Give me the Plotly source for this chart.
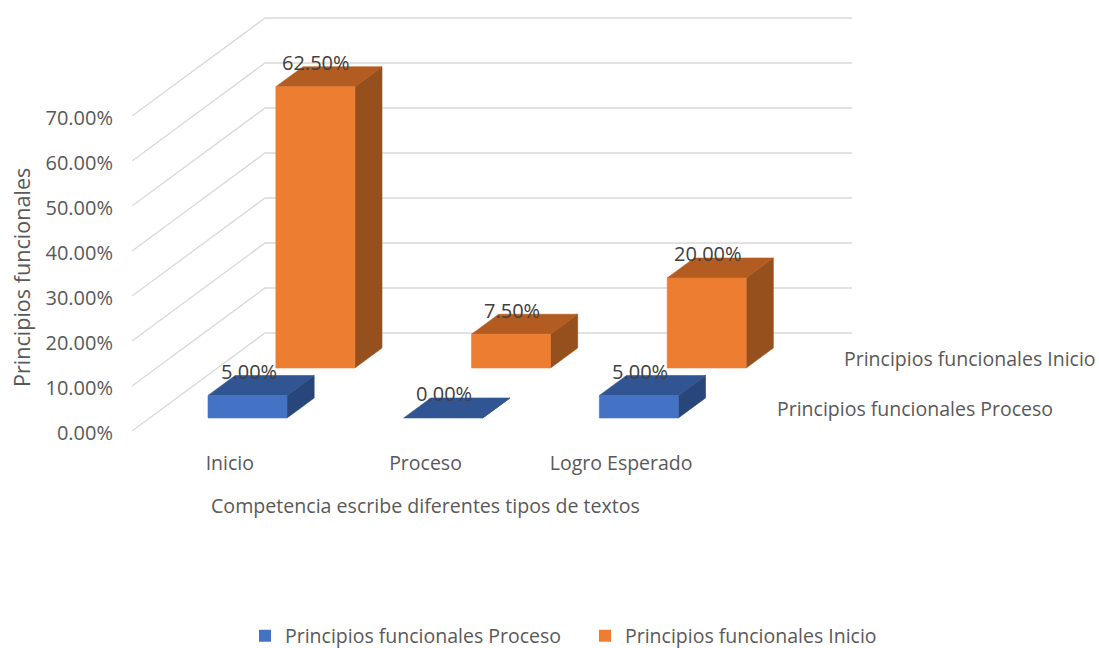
import plotly.graph_objects as go

categories = ["Inicio", "Proceso", "Logro Esperado"]
series_front_name = "Principios funcionales Proceso"
series_back_name = "Principios funcionales Inicio"
proceso_values = [0.05, 0.0, 0.05]
inicio_values = [0.625, 0.075, 0.20]
y_ticks = [0, 0.1, 0.2, 0.3, 0.4, 0.5, 0.6, 0.7]

FONT = "Open Sans"
GREY = "#595959"
GRID = "#d9d9d9"
W, H = 1099, 648
ML = 132
PX_CAT = 195.67
PX_VAL = 450.0
DX = 133 / PX_CAT   # full depth, x shift in category units
DY = 98 / PX_VAL    # full depth, y shift in value units
BAR_W = 79 / PX_CAT
GAP = (1 - BAR_W) / 2


def proj(cat, val, depth):
    return cat + depth * DX, val + depth * DY


def poly(points, color, line=None):
    xs, ys = zip(*points)
    return go.Scatter(
        x=list(xs) + [xs[0]], y=list(ys) + [ys[0]], mode="lines", fill="toself",
        fillcolor=color, line=dict(color=line or color, width=0.6),
        hoverinfo="skip", showlegend=False,
    )


def bar(i, val, d1, d2, front, top, side):
    x0, x1 = i + GAP, i + GAP + BAR_W
    out = []
    out.append(poly([proj(x1, 0, d1), proj(x1, 0, d2), proj(x1, val, d2), proj(x1, val, d1)], side))
    out.append(poly([proj(x0, val, d1), proj(x1, val, d1), proj(x1, val, d2), proj(x0, val, d2)], top))
    if val > 0:
        out.append(poly([proj(x0, 0, d1), proj(x1, 0, d1), proj(x1, val, d1), proj(x0, val, d1)], front))
    return out


fig = go.Figure()

# walls
for t in y_ticks:
    a = proj(0, t, 0)
    b = proj(0, t, 1)
    c = proj(3, t, 1)
    fig.add_trace(go.Scatter(x=[a[0], b[0], c[0]], y=[a[1], b[1], c[1]], mode="lines",
                             line=dict(color=GRID, width=1.3), hoverinfo="skip", showlegend=False))

D_BACK = (0.643, 0.847)
D_FRONT = (0.133, 0.337)

for i, v in enumerate(inicio_values):
    for tr in bar(i, v, *D_BACK, "#ed7d31", "#b35c21", "#96501d"):
        fig.add_trace(tr)
for i, v in enumerate(proceso_values):
    for tr in bar(i, v, *D_FRONT, "#4472c4", "#315592", "#284679"):
        fig.add_trace(tr)

# legend entries
fig.add_trace(go.Scatter(x=[None], y=[None], mode="markers", name=series_front_name,
                         marker=dict(symbol="square", size=12, color="#4472c4")))
fig.add_trace(go.Scatter(x=[None], y=[None], mode="markers", name=series_back_name,
                         marker=dict(symbol="square", size=12, color="#ed7d31")))

ann = []
for vals, (d1, _) in ((inicio_values, D_BACK), (proceso_values, D_FRONT)):
    for i, v in enumerate(vals):
        x, y = proj(i + 0.5, v, d1)
        ann.append(dict(x=x, y=y, text=f"{v:.2%}", showarrow=False, yshift=24, xshift=1,
                        font=dict(family=FONT, size=20, color="#404040")))

# depth axis series labels
for name, d, xs in ((series_back_name, 0.643, 842), (series_front_name, 0.133, 775)):
    x, y = proj(3, 0, d)
    ann.append(dict(x=x, y=y, text=name, showarrow=False, xanchor="left", xshift=xs - (ML + x * PX_CAT),
                    yshift=9, font=dict(family=FONT, size=19.5, color=GREY)))

# category axis title
ann.append(dict(x=1.5, y=1 - 505 / H, xref="x", yref="paper",
                text="Competencia escribe diferentes tipos de textos",
                showarrow=False, yanchor="middle",
                font=dict(family=FONT, size=19.6, color=GREY)))

# value axis title
ann.append(dict(x=(21 - ML) / (W - ML), y=0.342, xref="paper", yref="y", text="Principios funcionales",
                showarrow=False, textangle=-90, xanchor="center", yanchor="middle",
                font=dict(family=FONT, size=21.6, color=GREY)))

fig.update_layout(
    width=W, height=H, autosize=False,
    margin=dict(l=ML, r=0, t=0, b=0, autoexpand=False),
    paper_bgcolor="white", plot_bgcolor="white",
    font=dict(family=FONT, color=GREY, size=19.5),
    annotations=ann,
    hovermode=False,
    legend=dict(orientation="h", xanchor="left", x=(245 - ML) / (W - ML), yanchor="middle",
                y=1 - 636 / H, font=dict(family=FONT, size=19.5, color=GREY),
                itemwidth=30, entrywidth=295, entrywidthmode="pixels", bgcolor="rgba(0,0,0,0)"),
    xaxis=dict(range=[0, (W - ML) / PX_CAT], tickvals=[0.5, 1.5, 2.5], ticktext=categories,
               anchor="free", position=1 - 448 / H,
               showgrid=False, zeroline=False, showline=False, ticks="", ticklabelstandoff=1,
               tickfont=dict(family=FONT, size=19.5, color=GREY)),
    yaxis=dict(range=[-(H - 431) / PX_VAL, 431 / PX_VAL], tickvals=y_ticks, tickformat=".2%",
               showgrid=False, zeroline=False, showline=False, ticks="", ticklabelstandoff=18,
               ticklabelshift=2, tickfont=dict(family=FONT, size=20, color=GREY)),
)

fig.write_html("out.html", config={"displayModeBar": False},
               post_script="document.body.style.margin='0';")
